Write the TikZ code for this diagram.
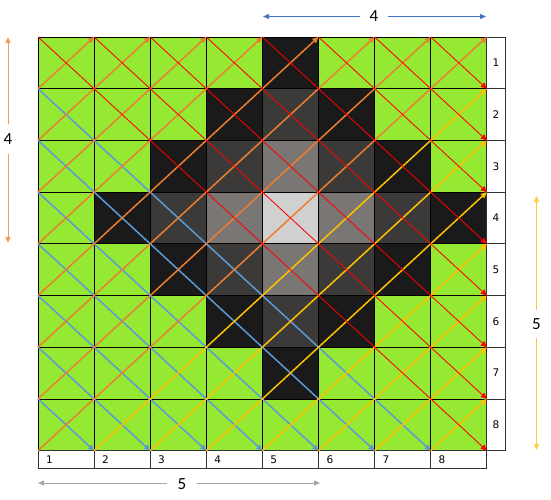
\documentclass[tikz,border=0pt]{standalone}
\usepackage{fontspec}
\setmainfont{Carlito}
\newfontfamily\lblfont{DejaVu Sans}
\usetikzlibrary{arrows.meta}
\definecolor{cgreen}{HTML}{96E932}
\definecolor{cB}{HTML}{1A1A1A}
\definecolor{cD}{HTML}{3C3A39}
\definecolor{cM}{HTML}{7A7674}
\definecolor{cL}{HTML}{D0D0D0}
\definecolor{lnred}{HTML}{FF0000}
\definecolor{lnorange}{HTML}{ED7D31}
\definecolor{lnblue}{HTML}{5B9BD5}
\definecolor{lnyellow}{HTML}{FFC000}
\definecolor{annblue}{HTML}{4472C4}
\definecolor{annorange}{HTML}{F39C5A}
\definecolor{annyellow}{HTML}{FFC83D}
\definecolor{anngray}{HTML}{A5A5A5}
\tikzset{
  cellbox/.style={draw=black, line width=0.7pt, inner sep=0pt, minimum width=56.1pt, minimum height=51.7pt},
  lblcell/.style={draw=black!80, fill=white, line width=0.7pt, inner sep=0pt, font=\lblfont\fontsize{10.5}{12}\selectfont},
  tipx/.tip={Triangle[length=6pt,width=5.5pt]},
  redln/.style={draw=lnred, line width=0.85pt, -tipx},
  blueln/.style={draw=lnblue, line width=1.5pt, -tipx},
  orangeln/.style={draw=lnorange, line width=1.5pt, -tipx},
  yellowln/.style={draw=lnyellow, line width=1.5pt, -tipx},
  bigtxt/.style={inner sep=0pt, font=\fontsize{17}{20}\selectfont},
  annarrow/.style={line width=1pt, -{Triangle[length=6pt,width=5pt]}}
}
\begin{document}
\begin{tikzpicture}[x=1pt,y=-1pt]
\useasboundingbox (0,0) rectangle (551,500);
% cells
\foreach \r in {1,...,8}{
  \foreach \c in {1,...,8}{
    \pgfmathtruncatemacro{\d}{abs(\r-4)+abs(\c-5)}
    \ifcase\d \def\fc{cL}\or \def\fc{cM}\or \def\fc{cD}\or \def\fc{cB}\else \def\fc{cgreen}\fi
    \node[cellbox, fill=\fc] (c\r-\c) at ({38+(\c-0.5)*56.1},{37+(\r-0.5)*51.7}) {};
  }
}
% grid corner coordinates
\foreach \i in {0,...,8}{
  \foreach \j in {0,...,8}{
    \coordinate (g\i-\j) at ({38+\j*56.1},{37+\i*51.7});
  }
}
% row labels (right)
\foreach \r in {1,...,8}{
  \node[lblcell, minimum width=18.5pt, minimum height=51.7pt] (rl\r) at (496.05,{37+(\r-0.5)*51.7}) {\r};
}
% column labels (bottom)
\foreach \c in {1,...,8}{
  \node[lblcell, minimum height=17.7pt, text width=40.1pt, inner xsep=8pt, align=left] (cl\c) at ({38+(\c-0.5)*56.1},459.5) {\c};
}
% diagonal lines
\foreach \k in {1,...,7}{
  \pgfmathtruncatemacro{\e}{8-\k}
  \draw[blueln] (g\k-0) -- (g8-\e);
}
\foreach \k in {1,...,8}{
  \draw[orangeln] (g\k-0) -- (g0-\k);
}
\foreach \k in {1,...,7}{
  \draw[yellowln] (g8-\k) -- (g\k-8);
}
\foreach \k in {0,...,7}{
  \pgfmathtruncatemacro{\e}{8-\k}
  \draw[redln] (g0-\k) -- (g\e-8);
}
% annotations
\node[bigtxt, minimum width=28pt] (tn) at (374,16.5) {4};
\coordinate (ta) at (263,16.5);
\coordinate (tb) at (486,16.5);
\draw[annarrow, annblue] (tn) -- (ta);
\draw[annarrow, annblue] (tn) -- (tb);

\node[bigtxt, minimum height=30pt] (ln) at (8,139) {4};
\coordinate (la) at (8,37);
\coordinate (lb) at (8,243);
\draw[annarrow, annorange] (ln) -- (la);
\draw[annarrow, annorange] (ln) -- (lb);

\node[bigtxt, minimum height=28pt] (rn) at (536.5,324) {5};
\coordinate (ra) at (536.5,196);
\coordinate (rb) at (536.5,450);
\draw[annarrow, annyellow] (rn) -- (ra);
\draw[annarrow, annyellow] (rn) -- (rb);

\node[bigtxt, minimum width=29pt] (bn) at (182,484) {5};
\coordinate (ba) at (38,483);
\coordinate (bb) at (320,483);
\draw[annarrow, anngray] (bn.west |- ba) -- (ba);
\draw[annarrow, anngray] (bn.east |- bb) -- (bb);
\end{tikzpicture}
\end{document}
